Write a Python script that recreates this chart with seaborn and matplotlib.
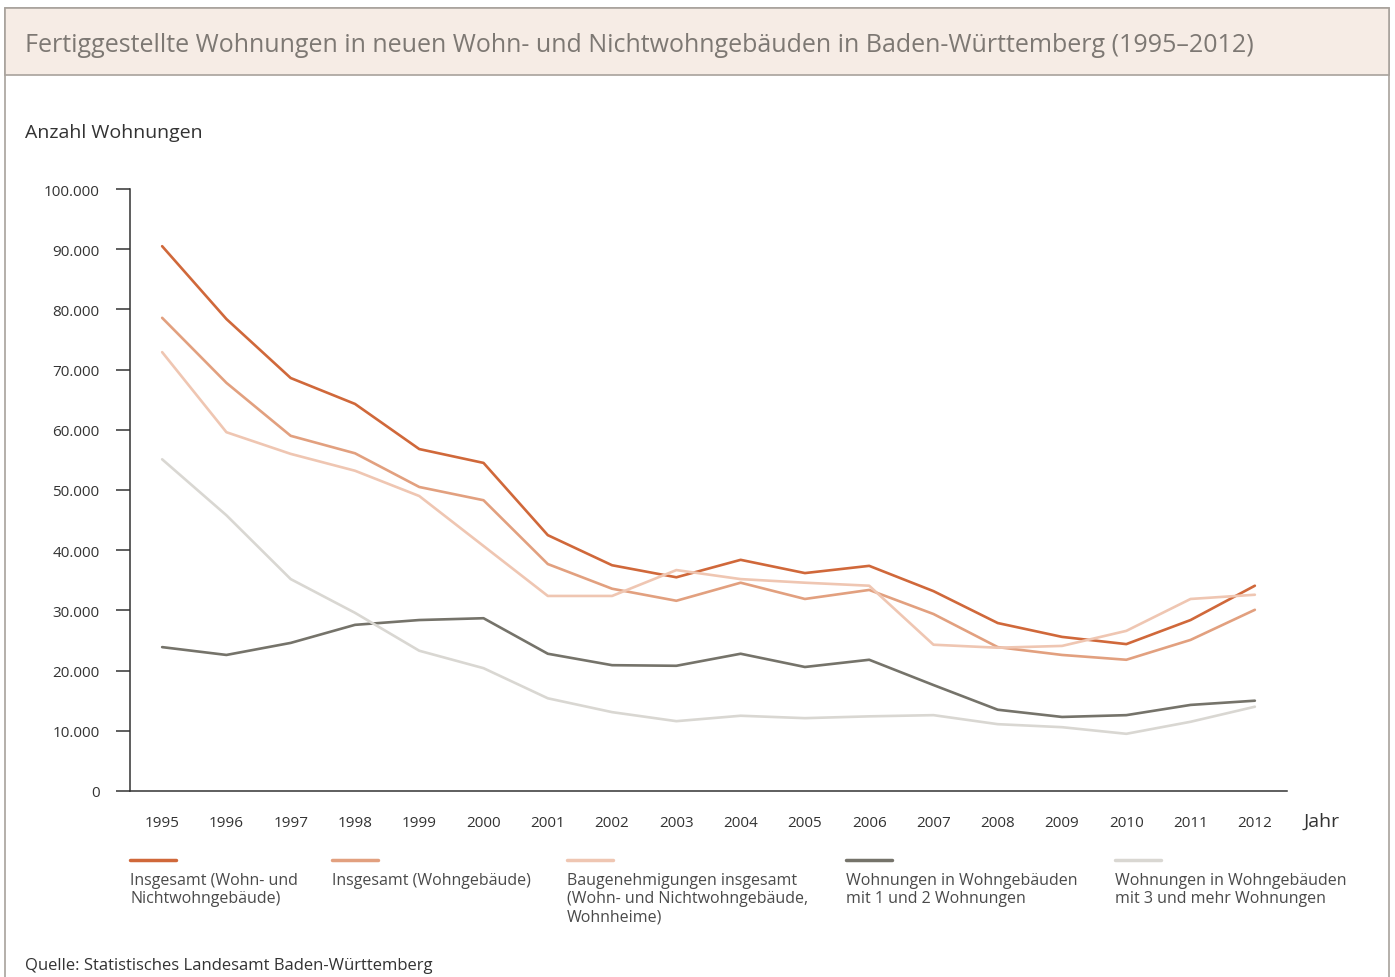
import numpy as np
import pandas as pd
import matplotlib
matplotlib.use("Agg")
import matplotlib.pyplot as plt
from matplotlib.patches import Rectangle
from matplotlib.lines import Line2D
from matplotlib.ticker import FuncFormatter, FixedLocator
import seaborn as sns

years = list(range(1995, 2013))
insgesamt_wn = [90.5, 78.4, 68.6, 64.3, 56.8, 54.5, 42.5, 37.5, 35.5, 38.4, 36.2, 37.4, 33.2, 27.9, 25.6, 24.4, 28.4, 34.1]
insgesamt_w = [78.6, 67.8, 59.0, 56.1, 50.5, 48.3, 37.7, 33.6, 31.6, 34.6, 31.9, 33.4, 29.4, 23.9, 22.6, 21.8, 25.1, 30.1]
baugenehm = [72.9, 59.6, 56.0, 53.2, 49.0, 40.7, 32.4, 32.4, 36.7, 35.2, 34.6, 34.1, 24.3, 23.8, 24.1, 26.6, 31.9, 32.6]
w_1_2 = [23.9, 22.6, 24.6, 27.6, 28.4, 28.7, 22.8, 20.9, 20.8, 22.8, 20.6, 21.8, 17.6, 13.5, 12.3, 12.6, 14.3, 15.0]
w_3plus = [55.1, 45.8, 35.2, 29.6, 23.3, 20.4, 15.4, 13.1, 11.6, 12.5, 12.1, 12.4, 12.6, 11.1, 10.6, 9.5, 11.5, 14.0]

series_names = [
    "Insgesamt (Wohn- und\nNichtwohngebäude)",
    "Insgesamt (Wohngebäude)",
    "Baugenehmigungen insgesamt\n(Wohn- und Nichtwohngebäude,\nWohnheime)",
    "Wohnungen in Wohngebäuden\nmit 1 und 2 Wohnungen",
    "Wohnungen in Wohngebäuden\nmit 3 und mehr Wohnungen",
]
series_values = [insgesamt_wn, insgesamt_w, baugenehm, w_1_2, w_3plus]
colors = ["#d0683a", "#e2a07f", "#efc6b2", "#75736a", "#d9d7d2"]

rows = []
for name, vals in zip(series_names, series_values):
    for y, v in zip(years, vals):
        rows.append({"Jahr": y, "Wert": v * 1000, "Serie": name})
df = pd.DataFrame(rows)

sns.set_style("white")
plt.rcParams["font.family"] = ["Open Sans", "DejaVu Sans"]

W, H = 1395, 978
fig = plt.figure(figsize=(W / 100, H / 100), dpi=100)

def fx(px):
    return px / W

def fy(py):
    return 1 - py / H

# frame and title box
fig.add_artist(Rectangle((fx(5), fy(985)), fx(1389) - fx(5), fy(9) - fy(985),
                         transform=fig.transFigure, facecolor="white",
                         edgecolor="#a8a29c", linewidth=1.2, zorder=0))
fig.add_artist(Rectangle((fx(5), fy(76)), fx(1389) - fx(5), fy(9) - fy(76),
                         transform=fig.transFigure, facecolor="#f6ece5",
                         edgecolor="#a8a29c", linewidth=1.2, zorder=1))
fig.text(fx(25), fy(46), "Fertiggestellte Wohnungen in neuen Wohn- und Nichtwohngebäuden in Baden-Württemberg (1995–2012)",
         fontsize=18, color="#7d7873", va="center", ha="left")
fig.text(fx(25), fy(133), "Anzahl Wohnungen", fontsize=14, color="#333333", va="center", ha="left")

ax = fig.add_axes([fx(130), fy(792), fx(1287) - fx(130), fy(190) - fy(792)])
ax.set_facecolor("none")
sns.lineplot(data=df, x="Jahr", y="Wert", hue="Serie", palette=colors,
             hue_order=series_names, linewidth=1.9, ax=ax, legend=False)

ax.set_xlim(1994.5, 2012.5)
ax.set_ylim(0, 100000)
ax.set_yticks(np.arange(0, 100001, 10000))
ax.yaxis.set_major_formatter(FuncFormatter(lambda v, p: f"{int(v):,}".replace(",", ".")))
ax.xaxis.set_major_locator(FixedLocator(np.arange(1994.5, 2013, 1)))
ax.xaxis.set_major_formatter(FuncFormatter(lambda v, p: ""))
ax.set_xticks(years, minor=True)
ax.set_xticklabels([str(y) for y in years], minor=True)
ax.tick_params(axis="x", which="minor", length=0, pad=17.5, labelsize=11, labelcolor="#333333")
ax.tick_params(axis="x", which="major", length=7.5, width=1.1, color="#333333", direction="out")
ax.tick_params(axis="y", length=10, width=1.1, color="#333333", direction="out", pad=12,
               labelsize=11, labelcolor="#333333", left=True)
ax.set_xlabel("")
ax.set_ylabel("")
for s in ["top", "right"]:
    ax.spines[s].set_visible(False)
for s in ["left", "bottom"]:
    ax.spines[s].set_color("#333333")
    ax.spines[s].set_linewidth(1.1)

fig.text(fx(1304), fy(822), "Jahr", fontsize=14, color="#333333", va="center", ha="left")

# legend
leg_x = [130, 332, 567, 846, 1115]
for x, c, name in zip(leg_x, colors, series_names):
    fig.add_artist(Line2D([fx(x), fx(x + 46)], [fy(861), fy(861)], transform=fig.transFigure,
                          color=c, linewidth=2.5))
    fig.text(fx(x), fy(873), name, fontsize=11.5, color="#4a4a4a", va="top", ha="left",
             linespacing=1.2)

fig.text(fx(25), fy(966), "Quelle: Statistisches Landesamt Baden-Württemberg", fontsize=12,
         color="#333333", va="center", ha="left")

fig.savefig("out.png", dpi=100)
